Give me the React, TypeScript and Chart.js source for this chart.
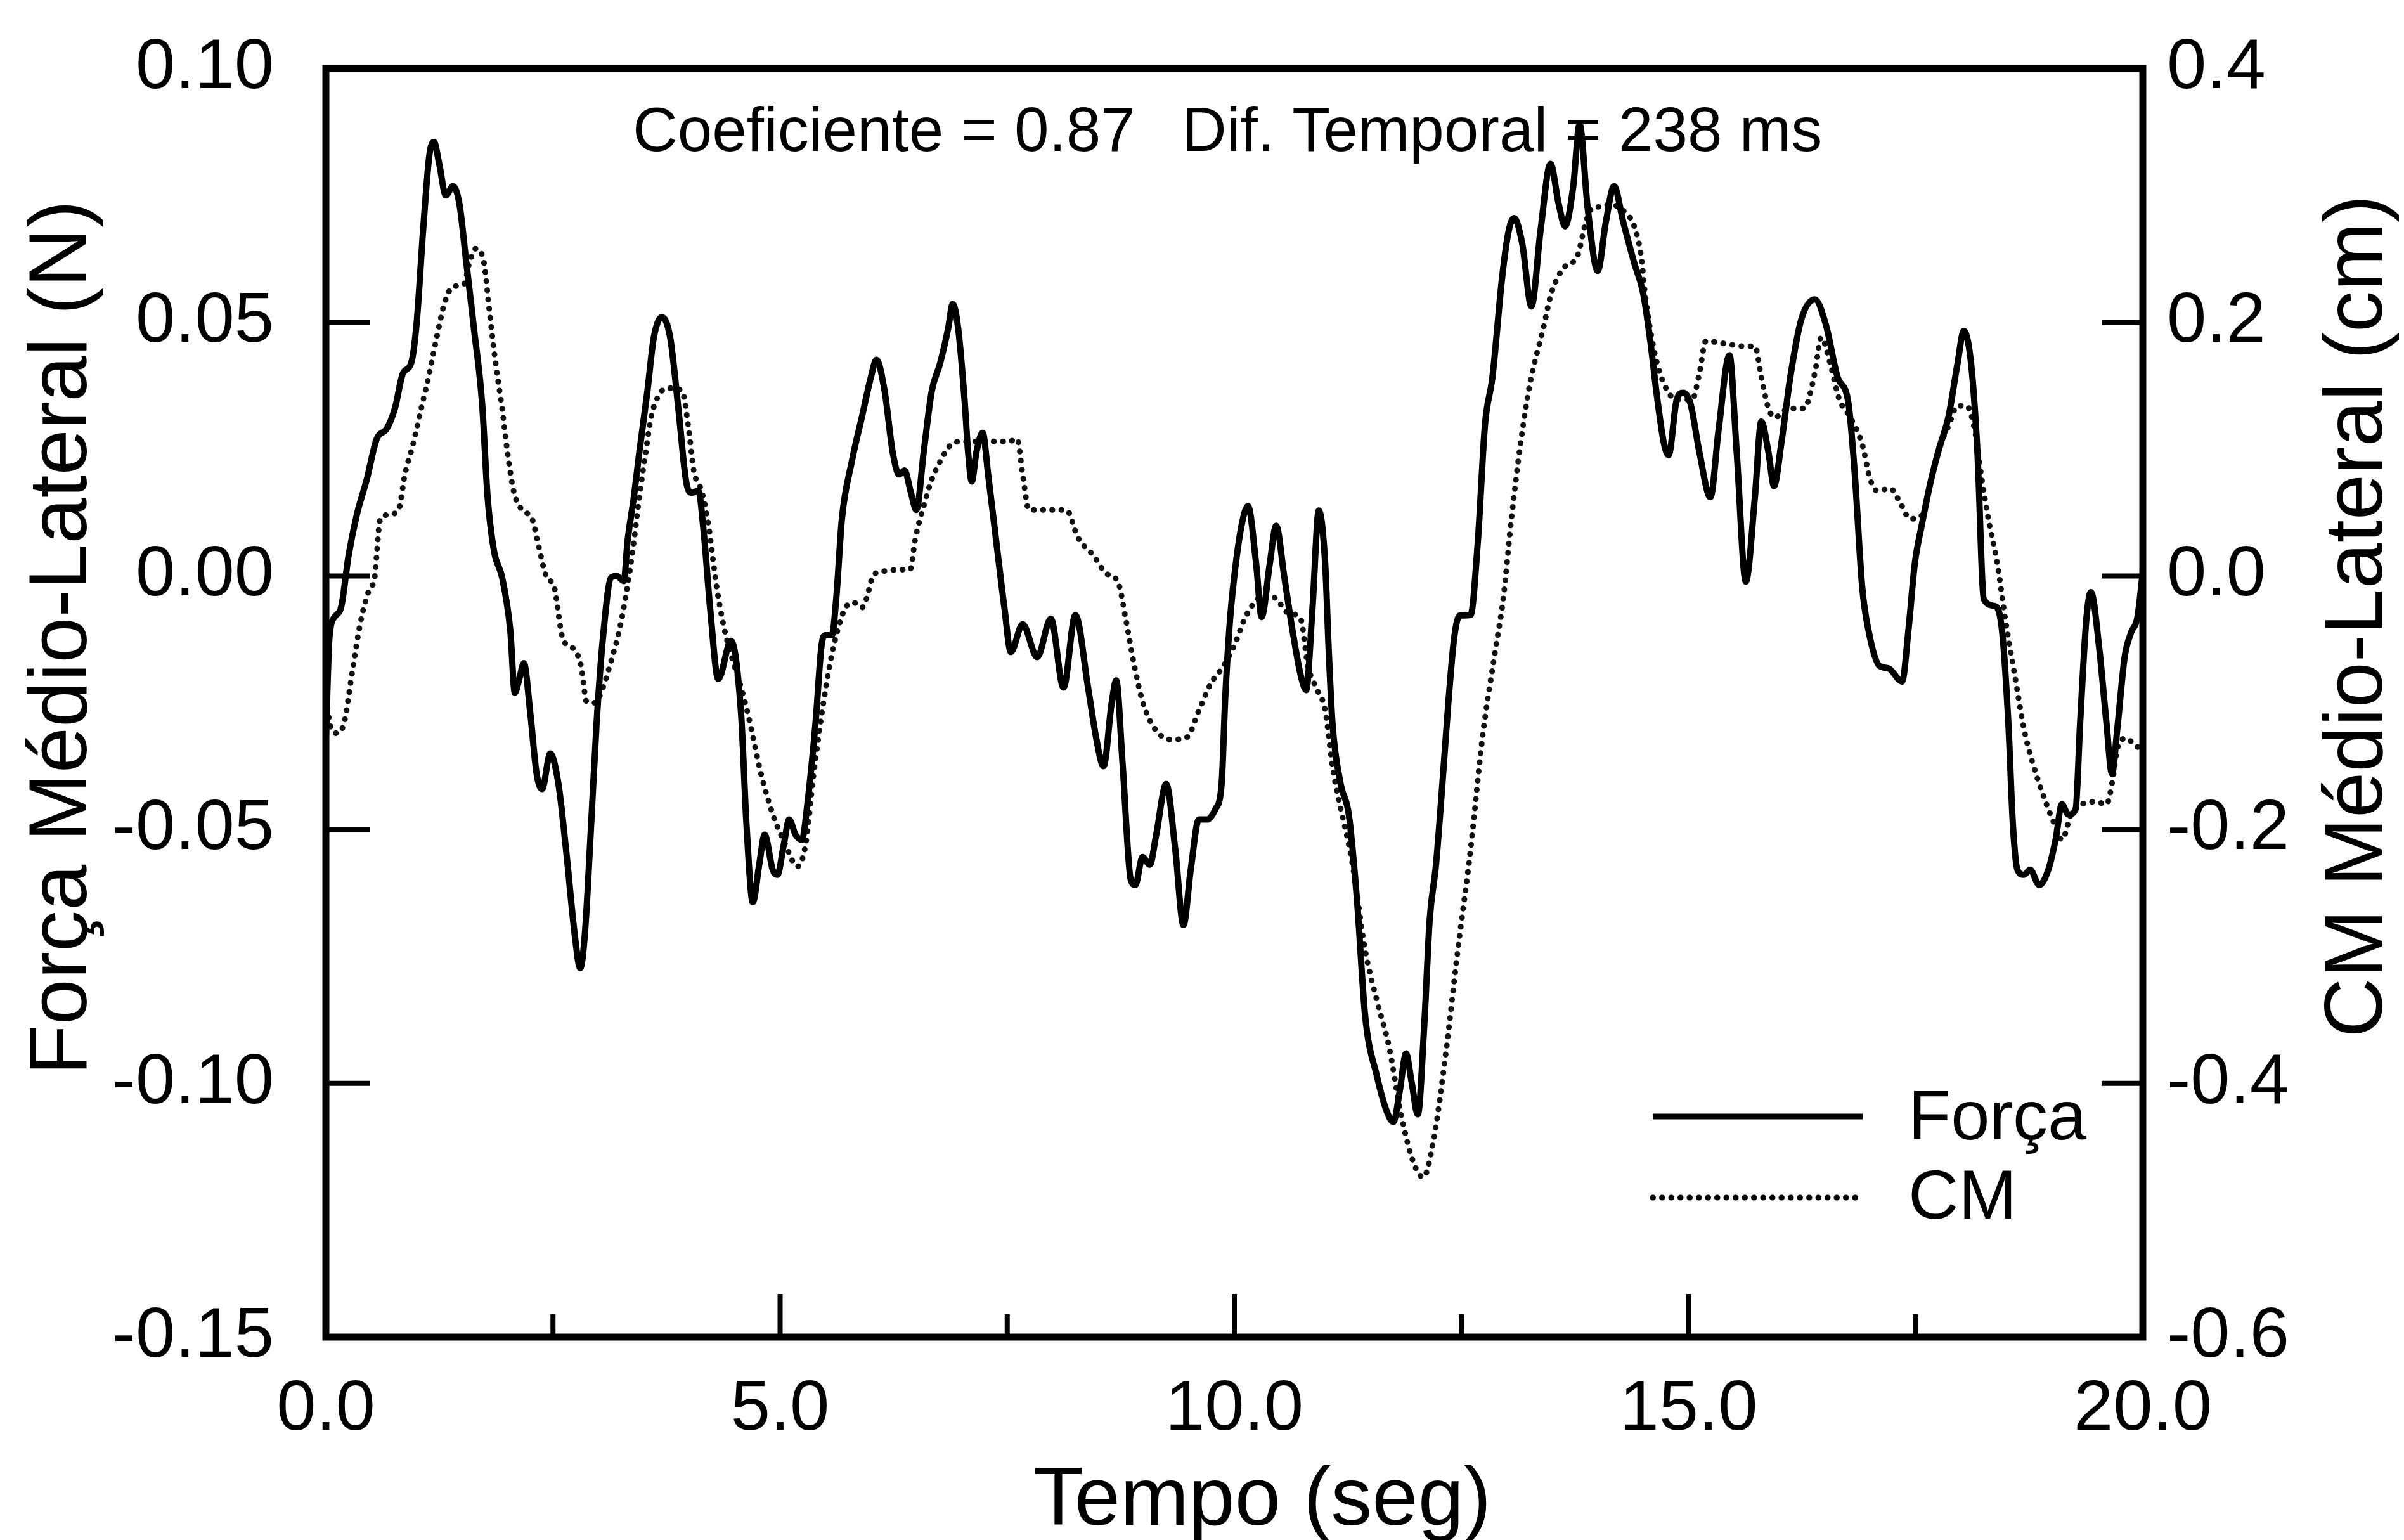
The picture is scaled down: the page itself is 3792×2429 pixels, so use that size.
import React, { useEffect, useRef } from "react";
import { Chart, registerables } from "chart.js";

Chart.register(...registerables);

// ---------------- data ----------------
const forceTime = [
  0.0, 0.04, 0.1, 0.17, 0.25, 0.34, 0.45, 0.56, 0.67, 0.76, 0.85, 0.94, 1.0, 1.07, 1.14, 1.19, 1.25, 1.32, 1.4,
  1.47, 1.54, 1.63, 1.72, 1.78, 1.85, 1.94, 2.03, 2.08, 2.12, 2.18, 2.25, 2.32, 2.38, 2.47, 2.56, 2.65, 2.74, 2.8,
  2.85, 2.92, 2.98, 3.05, 3.14, 3.2, 3.28, 3.32, 3.39, 3.45, 3.54, 3.61, 3.7, 3.79, 3.88, 3.97, 4.03, 4.1, 4.16,
  4.23, 4.32, 4.46, 4.57, 4.63, 4.7, 4.77, 4.83, 4.92, 4.97, 5.04, 5.1, 5.17, 5.24, 5.3, 5.39, 5.46, 5.5, 5.57,
  5.62, 5.68, 5.79, 5.9, 6.0, 6.06, 6.15, 6.24, 6.31, 6.37, 6.44, 6.5, 6.58, 6.67, 6.76, 6.85, 6.9, 6.96, 7.03,
  7.07, 7.11, 7.16, 7.23, 7.29, 7.38, 7.47, 7.54, 7.67, 7.83, 7.98, 8.12, 8.25, 8.39, 8.48, 8.56, 8.65, 8.7, 8.77,
  8.86, 8.91, 8.99, 9.07, 9.14, 9.25, 9.35, 9.44, 9.52, 9.61, 9.7, 9.79, 9.86, 9.9, 9.95, 10.0, 10.08, 10.15,
  10.24, 10.3, 10.39, 10.46, 10.55, 10.64, 10.73, 10.79, 10.86, 10.93, 11.0, 11.04, 11.08, 11.17, 11.26, 11.35,
  11.44, 11.57, 11.68, 11.75, 11.82, 11.89, 11.95, 12.02, 12.09, 12.15, 12.22, 12.29, 12.36, 12.42, 12.48, 12.6,
  12.68, 12.76, 12.84, 12.95, 13.02, 13.08, 13.17, 13.27, 13.37, 13.48, 13.57, 13.64, 13.73, 13.8, 13.89, 14.0,
  14.09, 14.18, 14.28, 14.4, 14.5, 14.58, 14.65, 14.73, 14.78, 14.87, 14.94, 15.02, 15.12, 15.24, 15.33, 15.45,
  15.53, 15.63, 15.73, 15.8, 15.88, 15.94, 16.02, 16.12, 16.24, 16.39, 16.51, 16.64, 16.76, 16.83, 16.91, 16.98,
  17.1, 17.2, 17.35, 17.42, 17.49, 17.57, 17.67, 17.76, 17.86, 17.96, 18.03, 18.11, 18.18, 18.25, 18.38, 18.45,
  18.52, 18.57, 18.62, 18.69, 18.76, 18.86, 18.96, 19.04, 19.11, 19.18, 19.26, 19.31, 19.38, 19.43, 19.52, 19.6,
  19.66, 19.72, 19.8, 19.87, 19.94, 20.0,
];
const forceValues = [
  -0.032, -0.012, -0.008, -0.006, 0.004, 0.012, 0.019, 0.027, 0.029, 0.033, 0.04, 0.042, 0.05, 0.068, 0.083,
  0.0855, 0.081, 0.075, 0.0768, 0.0733, 0.0627, 0.0488, 0.034, 0.0156, 0.005, -0.0003, -0.0107, -0.023, -0.021,
  -0.0172, -0.027, -0.039, -0.042, -0.035, -0.041, -0.055, -0.0708, -0.0773, -0.0708, -0.049, -0.029, -0.0122,
  -0.0003, 0.0, -0.001, 0.0067, 0.0155, 0.0243, 0.0365, 0.047, 0.051, 0.047, 0.033, 0.0182, 0.0164, 0.0168,
  0.0085, -0.0064, -0.0203, -0.0128, -0.027, -0.049, -0.0643, -0.0569, -0.051, -0.058, -0.0589, -0.053, -0.048,
  -0.051, -0.052, -0.045, -0.029, -0.0132, -0.0117, -0.0117, -0.004, 0.0112, 0.0226, 0.0313, 0.0392, 0.0426,
  0.0365, 0.0243, 0.02, 0.0208, 0.0164, 0.013, 0.0243, 0.0365, 0.0418, 0.0488, 0.0536, 0.0488, 0.0348, 0.0243,
  0.0186, 0.0243, 0.0282, 0.02, 0.0067, -0.0064, -0.015, -0.0095, -0.016, -0.0084, -0.022, -0.0077, -0.022,
  -0.032, -0.0375, -0.025, -0.0206, -0.037, -0.0599, -0.0609, -0.0554, -0.0569, -0.051, -0.041, -0.0539,
  -0.0688, -0.0579, -0.048, -0.048, -0.046, -0.041, -0.024, -0.0092, 0.0, 0.01, 0.0138, 0.0024, -0.0081, 0.0024,
  0.0099, -0.0002, -0.0107, -0.0195, -0.0225, -0.0064, 0.0129, 0.0024, -0.0151, -0.029, -0.041, -0.047,
  -0.0638, -0.0867, -0.0986, -0.1056, -0.1076, -0.1016, -0.0941, -0.0996, -0.1061, -0.0887, -0.0678, -0.0569,
  -0.041, -0.024, -0.0122, -0.0078, -0.0077, 0.0067, 0.03, 0.039, 0.0592, 0.068, 0.0705, 0.0654, 0.0531, 0.068,
  0.0812, 0.0733, 0.0689, 0.0767, 0.089, 0.0724, 0.0601, 0.0698, 0.0768, 0.0698, 0.0618, 0.0557, 0.0461,
  0.0357, 0.026, 0.0238, 0.0348, 0.0361, 0.034, 0.0243, 0.0155, 0.0287, 0.0435, 0.0243, -0.0011, 0.0155, 0.0304,
  0.0243, 0.0177, 0.026, 0.0392, 0.0505, 0.0545, 0.0496, 0.0392, 0.034, 0.02, -0.002, -0.0107, -0.0177,
  -0.0182, -0.0208, -0.0107, 0.0024, 0.0103, 0.019, 0.0252, 0.0313, 0.0418, 0.0483, 0.0418, 0.0243, -0.0046,
  -0.006, -0.0107, -0.029, -0.049, -0.0579, -0.0589, -0.0579, -0.0609, -0.0579, -0.052, -0.045, -0.047, -0.046,
  -0.029, -0.0082, -0.0032, -0.0142, -0.029, -0.039, -0.03, -0.016, -0.0112, -0.0082, 0.0008,
];

const cmTime = [
  0.0, 0.05, 0.12, 0.2, 0.29, 0.38, 0.49, 0.53, 0.6, 0.67, 0.8, 0.87, 0.96, 1.05, 1.14, 1.22, 1.31, 1.4, 1.52,
  1.58, 1.65, 1.74, 1.8, 1.87, 1.94, 2.0, 2.07, 2.16, 2.27, 2.34, 2.43, 2.51, 2.61, 2.72, 2.81, 2.87, 2.96, 3.05,
  3.14, 3.23, 3.32, 3.39, 3.45, 3.52, 3.58, 3.67, 3.76, 3.92, 3.99, 4.05, 4.14, 4.21, 4.3, 4.39, 4.48, 4.57, 4.65,
  4.79, 4.92, 5.06, 5.19, 5.28, 5.37, 5.46, 5.55, 5.64, 5.72, 5.81, 5.9, 5.95, 6.03, 6.17, 6.3, 6.43, 6.49, 6.58,
  6.67, 6.76, 6.89, 7.01, 7.29, 7.52, 7.61, 7.67, 7.74, 7.87, 8.15, 8.28, 8.45, 8.59, 8.72, 8.81, 8.9, 8.99, 9.12,
  9.3, 9.48, 9.61, 9.74, 9.88, 10.01, 10.1, 10.21, 10.34, 10.46, 10.59, 10.73, 10.81, 10.9, 11.0, 11.08, 11.3,
  11.44, 11.57, 11.7, 11.84, 11.97, 12.08, 12.19, 12.33, 12.46, 12.6, 12.73, 12.87, 12.96, 13.05, 13.15, 13.25,
  13.4, 13.49, 13.64, 13.77, 13.87, 13.94, 14.04, 14.13, 14.31, 14.4, 14.48, 14.52, 14.62, 14.72, 14.87, 15.04,
  15.12, 15.19, 15.41, 15.61, 15.73, 15.8, 15.88, 15.95, 16.1, 16.27, 16.39, 16.46, 16.56, 16.66, 16.78, 16.91,
  17.0, 17.08, 17.22, 17.32, 17.44, 17.57, 17.67, 17.76, 17.86, 17.96, 18.06, 18.15, 18.22, 18.3, 18.4, 18.49,
  18.59, 18.69, 18.79, 18.94, 19.03, 19.11, 19.21, 19.33, 19.48, 19.6, 19.67, 19.72, 19.82, 19.92, 20.0,
];
const cmValues = [
  -0.097, -0.118, -0.124, -0.116, -0.076, -0.037, -0.009, -0.0045, 0.045, 0.048, 0.052, 0.08, 0.104, 0.132,
  0.16, 0.188, 0.216, 0.228, 0.23, 0.247, 0.258, 0.247, 0.209, 0.167, 0.132, 0.097, 0.066, 0.052, 0.045, 0.024,
  -0.001, -0.008, -0.05, -0.057, -0.071, -0.099, -0.1, -0.088, -0.067, -0.043, -0.008, 0.027, 0.062, 0.097,
  0.125, 0.143, 0.148, 0.146, 0.118, 0.083, 0.066, 0.041, -0.008, -0.043, -0.067, -0.088, -0.11, -0.156,
  -0.188, -0.212, -0.229, -0.212, -0.156, -0.108, -0.069, -0.041, -0.025, -0.021, -0.025, -0.018, 0.001, 0.004,
  0.005, 0.005, 0.03, 0.055, 0.076, 0.09, 0.104, 0.106, 0.106, 0.106, 0.108, 0.08, 0.052, 0.052, 0.052, 0.03,
  0.016, 0.002, -0.005, -0.036, -0.071, -0.099, -0.12, -0.129, -0.127, -0.106, -0.085, -0.071, -0.053, -0.036,
  -0.022, -0.015, -0.018, -0.029, -0.034, -0.071, -0.088, -0.106, -0.15, -0.227, -0.295, -0.335, -0.37, -0.426,
  -0.462, -0.474, -0.446, -0.375, -0.295, -0.216, -0.128, -0.06, -0.018, 0.045, 0.104, 0.15, 0.195, 0.223,
  0.244, 0.251, 0.279, 0.29, 0.291, 0.293, 0.286, 0.276, 0.251, 0.223, 0.178, 0.153, 0.139, 0.139, 0.16, 0.185,
  0.183, 0.181, 0.181, 0.157, 0.132, 0.125, 0.132, 0.132, 0.16, 0.188, 0.167, 0.139, 0.125, 0.104, 0.076, 0.067,
  0.069, 0.059, 0.045, 0.048, 0.076, 0.101, 0.118, 0.134, 0.134, 0.115, 0.08, 0.045, 0.009, -0.036, -0.078,
  -0.12, -0.148, -0.18, -0.196, -0.208, -0.188, -0.18, -0.178, -0.18, -0.16, -0.136, -0.128, -0.134, -0.136,
];

const xMajorTicks = [0, 5, 10, 15, 20];
const xMinorTicks = [2.5, 7.5, 12.5, 17.5];
const yLeftTicks = [-0.15, -0.1, -0.05, 0, 0.05, 0.1];
const yRightTicks = [-0.6, -0.4, -0.2, 0, 0.2, 0.4];
const seriesLabels = ["Força", "CM"];
const xTitle = "Tempo (seg)";
const yLeftTitle = "Força Médio-Lateral (N)";
const yRightTitle = "CM Médio-Lateral (cm)";
const annotationParts = ["Coeficiente = 0.87", "Dif. Temporal = 238 ms"];

// ---------------- styling ----------------
const FONT = '"Liberation Sans", Arial, Helvetica, sans-serif';
const W = 3792;
const H = 2429;
const DOT_DASH = [0.5, 14];

const fmt = (v: number, d: number) => (Math.abs(v) < 1e-9 ? 0 : v).toFixed(d);

const zeroPad = (s: any) => {
  s.paddingTop = 0;
  s.paddingBottom = 0;
  s.paddingLeft = 0;
  s.paddingRight = 0;
};

const decorPlugin = {
  id: "decor",
  afterDatasetsDraw(chart: any) {
    const { ctx, chartArea: a, scales } = chart;
    const line = (x1: number, y1: number, x2: number, y2: number) => {
      ctx.beginPath();
      ctx.moveTo(x1, y1);
      ctx.lineTo(x2, y2);
      ctx.stroke();
    };
    ctx.save();
    ctx.strokeStyle = "#000";
    ctx.fillStyle = "#000";
    ctx.setLineDash([]);
    // frame
    ctx.lineWidth = 11;
    ctx.lineJoin = "miter";
    ctx.strokeRect(a.left, a.top, a.right - a.left, a.bottom - a.top);
    // inward ticks
    ctx.lineWidth = 8;
    ctx.lineCap = "butt";
    for (const v of yLeftTicks) {
      const py = scales.y.getPixelForValue(v);
      line(a.left, py, a.left + 70, py);
    }
    for (const v of yRightTicks) {
      const py = scales.y1.getPixelForValue(v);
      line(a.right - 65, py, a.right, py);
    }
    for (const v of xMajorTicks) {
      const px = scales.x.getPixelForValue(v);
      line(px, a.bottom, px, a.bottom - 68);
    }
    for (const v of xMinorTicks) {
      const px = scales.x.getPixelForValue(v);
      line(px, a.bottom, px, a.bottom - 36);
    }

    // axis titles
    ctx.font = `130px ${FONT}`;
    ctx.textAlign = "center";
    ctx.textBaseline = "alphabetic";
    ctx.fillText(xTitle, 1991, 2405);
    ctx.save();
    ctx.translate(136, 1006);
    ctx.rotate(-Math.PI / 2);
    ctx.fillText(yLeftTitle, 0, 0);
    ctx.restore();
    ctx.save();
    ctx.translate(3757, 972);
    ctx.rotate(-Math.PI / 2);
    ctx.fillText(yRightTitle, 0, 0);
    ctx.restore();

    // annotation
    ctx.font = `98px ${FONT}`;
    ctx.textAlign = "left";
    ctx.fillText(annotationParts[0], 998, 238);
    ctx.fillText(annotationParts[1], 1864, 238);

    // legend
    ctx.lineWidth = 9;
    ctx.lineCap = "butt";
    line(2607, 1761, 2938, 1761);
    ctx.lineWidth = 9;
    ctx.lineCap = "round";
    ctx.setLineDash(DOT_DASH);
    line(2607, 1889, 2938, 1889);
    ctx.setLineDash([]);
    ctx.font = `110px ${FONT}`;
    ctx.fillText(seriesLabels[0], 3010, 1797);
    ctx.fillText(seriesLabels[1], 3010, 1922);
    ctx.restore();
  },
};

export default function App() {
  const ref = useRef<HTMLCanvasElement | null>(null);

  useEffect(() => {
    if (!ref.current) return;
    const forcePts = forceTime.map((t, i) => ({ x: t, y: forceValues[i] }));
    const cmPts = cmTime.map((t, i) => ({ x: t, y: cmValues[i] }));
    const tickFont = { family: FONT, size: 112 };

    const chart = new Chart(ref.current, {
      type: "line",
      data: {
        datasets: [
          {
            label: seriesLabels[0],
            data: forcePts,
            yAxisID: "y",
            borderColor: "#000",
            borderWidth: 10,
            pointRadius: 0,
            cubicInterpolationMode: "monotone",
            borderJoinStyle: "round",
            borderCapStyle: "round",
            fill: false,
          },
          {
            label: seriesLabels[1],
            data: cmPts,
            yAxisID: "y1",
            borderColor: "#111",
            borderWidth: 9,
            borderDash: DOT_DASH,
            borderCapStyle: "round",
            pointRadius: 0,
            cubicInterpolationMode: "monotone",
            fill: false,
          },
        ],
      },
      options: {
        responsive: false,
        maintainAspectRatio: false,
        animation: false,
        devicePixelRatio: 1,
        layout: { padding: { top: 108, left: 0, right: 0, bottom: 0 } },
        plugins: { legend: { display: false }, tooltip: { enabled: false } },
        scales: {
          x: {
            type: "linear",
            position: "bottom",
            min: 0,
            max: 20,
            grid: { display: false, drawTicks: false },
            border: { display: false },
            afterBuildTicks: (s: any) => {
              s.ticks = xMajorTicks.map((v) => ({ value: v }));
            },
            afterFit: (s: any) => {
              s.height = 320;
              zeroPad(s);
            },
            ticks: {
              callback: (v: any) => fmt(Number(v), 1),
              font: tickFont,
              color: "#000",
              padding: 48,
              maxRotation: 0,
              autoSkip: false,
            },
          },
          y: {
            type: "linear",
            position: "left",
            min: -0.15,
            max: 0.1,
            grid: { display: false, drawTicks: false },
            border: { display: false },
            afterBuildTicks: (s: any) => {
              s.ticks = yLeftTicks.map((v) => ({ value: v }));
            },
            afterFit: (s: any) => {
              s.width = 514;
              zeroPad(s);
            },
            ticks: {
              callback: (v: any) => fmt(Number(v), 2),
              font: tickFont,
              color: "#000",
              padding: 82,
              autoSkip: false,
            },
          },
          y1: {
            type: "linear",
            position: "right",
            min: -0.6,
            max: 0.4,
            grid: { display: false, drawTicks: false },
            border: { display: false },
            afterBuildTicks: (s: any) => {
              s.ticks = yRightTicks.map((v) => ({ value: v }));
            },
            afterFit: (s: any) => {
              s.width = W - 3380;
              zeroPad(s);
            },
            ticks: {
              callback: (v: any) => fmt(Number(v), 1),
              font: tickFont,
              color: "#000",
              padding: 38,
              autoSkip: false,
            },
          },
        },
      } as any,
      plugins: [decorPlugin],
    });
    return () => chart.destroy();
  }, []);

  return (
    <div style={{ position: "fixed", left: 0, top: 0, width: W, height: H, background: "#fff" }}>
      <canvas ref={ref} width={W} height={H} style={{ display: "block", width: W, height: H }} />
    </div>
  );
}
